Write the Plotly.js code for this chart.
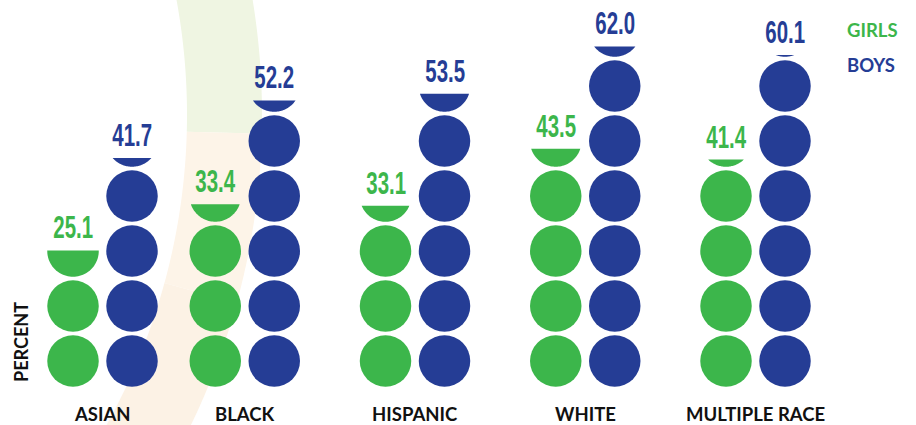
<!DOCTYPE html>
<html><head><meta charset="utf-8">
<script src="https://cdn.plot.ly/plotly-3.0.1.min.js"></script>
<style>html,body{margin:0;padding:0;background:#fff}#chart{width:916px;height:425px}</style>
</head><body><div id="chart"></div>
<script>
// ---- data ----
const categories = ['ASIAN', 'BLACK', 'HISPANIC', 'WHITE', 'MULTIPLE RACE'];
const girls = [25.1, 33.4, 33.1, 43.5, 41.4];
const boys = [41.7, 52.2, 53.5, 62.0, 60.1];
const seriesNames = ['GIRLS', 'BOYS'];
const yTitle = 'PERCENT';

// ---- layout / style constants ----
const W = 916, H = 425;
const groupPos = [0.1645, 1, 2, 3, 4];      // group centres on the x axis
const PX_X = 170.25;                          // px per x unit
const X0PX = 244.75 - 170.25;                 // pixel of x = 0
const PX_Y = 5.5;                             // px per percent
const ZERO_PX = 388.5;                        // pixel of y = 0
const UNIT = 10;                              // percent per circle
const DIAM = 51.5;                            // circle diameter px
const R = DIAM / 2;
const OFFS = 29.5;                            // px from group centre to column centre
const colors = ['#3cb64b', '#253d95'];
const series = [girls, boys];

const xRange = [-X0PX / PX_X, (W - X0PX) / PX_X];
const yRange = [-(H - ZERO_PX) / PX_Y, ZERO_PX / PX_Y];

const traces = [];
const shapes = [];
const annotations = [];
const squeeze = {};   // annotation index -> horizontal squeeze (condensed look)

// decorative background arc band (paper coords)
function px2paper(x, y) { return [x / W, 1 - y / H]; }
function ringPath(a0, a1, cx, cy, r0, r1) {
  const pts = [];
  const n = 40;
  for (let i = 0; i <= n; i++) {
    const a = (a0 + (a1 - a0) * i / n) * Math.PI / 180;
    pts.push(px2paper(cx + r1 * Math.cos(a), cy + r1 * Math.sin(a)));
  }
  for (let i = n; i >= 0; i--) {
    const a = (a0 + (a1 - a0) * i / n) * Math.PI / 180;
    pts.push(px2paper(cx + r0 * Math.cos(a), cy + r0 * Math.sin(a)));
  }
  return 'M' + pts.map(p => p[0].toFixed(5) + ',' + p[1].toFixed(5)).join('L') + 'Z';
}
const bands = [[-15, 1.5, '#eff5e2'], [1.5, 15.3, '#fdf4e8'], [15.3, 35, '#fcf2e5']];
bands.forEach(b => shapes.push({
  type: 'path', xref: 'paper', yref: 'paper', layer: 'below',
  path: ringPath(b[0], b[1], -450, 115, 637, 712),
  fillcolor: b[2], line: { width: 0 }
}));

function segPath(dx, h) {
  // bottom segment of a circle of radius R centred at (dx, 0) in pixels (y up)
  const yc = -R + h;
  const al = Math.asin(Math.max(-1, Math.min(1, yc / R)));
  const n = 48;
  const pts = [];
  for (let i = 0; i <= n; i++) {
    const t = al + (-Math.PI - 2 * al) * i / n;
    pts.push([dx + R * Math.cos(t), R * Math.sin(t)]);
  }
  return 'M' + pts.map(p => p[0].toFixed(2) + ',' + p[1].toFixed(2)).join('L') + 'Z';
}

series.forEach((vals, s) => {
  const dir = s === 0 ? -1 : 1;
  const xs = [], ys = [];
  vals.forEach((v, i) => {
    const n = Math.floor(v / UNIT + 1e-9);
    const f = v / UNIT - n;
    for (let k = 0; k < n; k++) {
      xs.push(groupPos[i] + dir * OFFS / PX_X);
      ys.push(UNIT * k + UNIT / 2);
    }
    let h = 0;
    if (f > 1e-9) {
      h = Math.max(f * DIAM, 1.7);
      shapes.push({
        type: 'path', xref: 'x', yref: 'y', layer: 'above',
        xsizemode: 'pixel', ysizemode: 'pixel',
        xanchor: groupPos[i], yanchor: UNIT * n + UNIT / 2,
        path: segPath(dir * OFFS, h),
        fillcolor: colors[s], line: { width: 0 }
      });
    }
    const topY = UNIT * n + UNIT / 2 - R / PX_Y + h / PX_Y;
    squeeze[annotations.length] = { k: 0.66 };
    annotations.push({
      x: groupPos[i], y: topY, xref: 'x', yref: 'y',
      xshift: dir * OFFS, yshift: 3,
      xanchor: 'center', yanchor: 'bottom', showarrow: false,
      text: v.toFixed(1),
      font: { family: 'Liberation Sans, Arial, sans-serif', size: 31, color: colors[s], weight: 700 }
    });
  });
  traces.push({
    type: 'scatter', mode: 'markers', name: seriesNames[s],
    x: xs, y: ys, hoverinfo: 'skip', showlegend: false,
    marker: { size: DIAM, color: colors[s], line: { width: 0 } }
  });
});

// category labels
categories.forEach((c, i) => annotations.push({
  x: groupPos[i], y: -4.64, xref: 'x', yref: 'y', showarrow: false,
  xanchor: 'center', yanchor: 'middle', text: c,
  font: { family: 'Lato, sans-serif', size: 18.5, color: '#111111', weight: 700 }
}));

// legend text
seriesNames.forEach((nm, s) => annotations.push({
  x: 845 / W, y: 1 - (30 + s * 35.5) / H, xref: 'paper', yref: 'paper',
  showarrow: false, xanchor: 'left', yanchor: 'middle', text: nm,
  font: { family: 'Lato, sans-serif', size: 18.5, color: colors[s], weight: 700 }
}));

// y title
squeeze[annotations.length] = { len: 80 };
annotations.push({
  x: 21 / W, y: 1 - 342 / H, xref: 'paper', yref: 'paper', showarrow: false,
  xanchor: 'center', yanchor: 'middle', textangle: -90, text: yTitle,
  font: { family: 'Lato, sans-serif', size: 18.5, color: '#111111', weight: 700 }
});

const layout = {
  width: W, height: H,
  margin: { l: 0, r: 0, t: 0, b: 0 },
  paper_bgcolor: '#ffffff', plot_bgcolor: '#ffffff',
  xaxis: { range: xRange, visible: false, fixedrange: true },
  yaxis: { range: yRange, visible: false, fixedrange: true },
  shapes: shapes, annotations: annotations, showlegend: false
};

Plotly.newPlot('chart', traces, layout, { displayModeBar: false, staticPlot: true }).then(gd => {
  Object.keys(squeeze).forEach(idx => {
    const g = gd.querySelector('g.annotation[data-index="' + idx + '"]');
    if (!g) return;
    const t = g.querySelector('text.annotation-text');
    if (!t) return;
    const L = t.getComputedTextLength();
    const target = squeeze[idx].len || L * squeeze[idx].k;
    t.setAttribute('textLength', target.toFixed(1));
    t.setAttribute('lengthAdjust', 'spacingAndGlyphs');
  });
});
</script>
</body></html>
